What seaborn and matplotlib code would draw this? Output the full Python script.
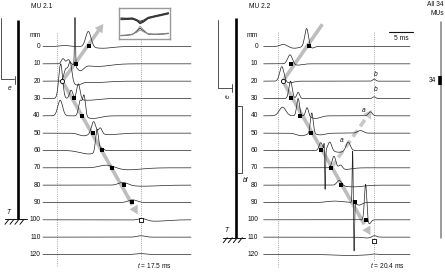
import numpy as np
import pandas as pd
import matplotlib
matplotlib.use("Agg")
import matplotlib.pyplot as plt
import seaborn as sns

sns.set_theme(style="white")
plt.rcParams["font.family"] = ["Liberation Sans", "DejaVu Sans"]
plt.rcParams["mathtext.fontset"] = "custom"
plt.rcParams["mathtext.it"] = "Liberation Sans:italic"

# ---------------- data ----------------
channels = [0, 10, 20, 30, 40, 50, 60, 70, 80, 90, 100, 110, 120]
t_start, t_end = -3.0, 28.0

# peaks per channel: (time ms, amplitude mm (up = +), sigma ms)
peaks_mu21 = [
    [(6.5, 9.0, 0.55), (9.5, -1.0, 2.0), (1.5, 0.6, 1.0)],
    [(1.2, 3.0, 0.35), (2.3, 2.5, 0.35), (3.7, 28.0, 0.1), (4.8, -3.5, 0.7), (8.5, -1.5, 2.5)],
    [(1.8, 7.0, 0.4), (2.7, 11.0, 0.35), (4.2, -2.0, 0.8), (8.0, -0.8, 2.5)],
    [(0.7, 20.0, 0.4), (2.9, 5.0, 0.35), (4.4, 9.0, 0.35), (6.5, -1.0, 2.0)],
    [(0.6, 9.0, 0.5), (4.8, 9.0, 0.35), (5.6, 12.0, 0.3), (7.5, -1.5, 1.5)],
    [(5.5, -1.5, 1.0), (7.6, 7.0, 0.45), (9.0, 3.5, 0.35), (11.0, -0.8, 2.0)],
    [(6.5, -2.0, 1.8), (8.3, 13.0, 0.3), (9.2, 2.0, 0.5)],
    [(10.5, 2.0, 1.6), (14.5, -1.2, 3.0)],
    [(13.8, 1.8, 1.0), (18.0, -0.6, 3.0)],
    [(15.8, 1.5, 0.9)],
    [(17.8, 1.2, 0.8), (20.5, -0.8, 2.5)],
    [(17.5, 0.8, 0.8)],
    [(17.5, 0.5, 1.0)],
]
peaks_mu22 = [
    [(1.2, 1.3, 0.7), (3.5, -1.0, 1.0), (6.1, 10.5, 0.4), (7.2, -1.0, 0.5)],
    [(2.6, 5.5, 0.5), (4.0, -0.8, 1.0)],
    [(0.85, 8.5, 0.45), (2.5, -1.0, 0.8), (20.4, 1.2, 0.3)],
    [(2.7, 10.0, 0.35), (4.3, 3.5, 0.3), (20.4, 1.0, 0.3)],
    [(1.0, 5.0, 0.7), (4.3, 10.0, 0.3), (6.2, 5.0, 0.3), (8.0, -1.5, 1.0), (19.6, 2.3, 0.4)],
    [(5.0, -1.5, 1.0), (7.2, 12.0, 0.3), (9.0, -1.0, 1.0), (17.5, 1.5, 0.6)],
    [(9.1, 4.5, 0.35), (9.85, 8.0, 0.08), (10.0, -24.0, 0.1), (11.0, 5.0, 0.4), (13.0, -1.0, 1.0), (14.9, 5.0, 0.45)],
    [(11.9, 7.0, 0.4), (13.3, 2.5, 0.4), (14.0, -1.0, 1.5)],
    [(13.0, 3.0, 0.5), (16.0, -1.0, 2.0)],
    [(12.0, 0.8, 1.5), (15.85, 30.0, 0.1), (16.15, -28.0, 0.1), (17.2, -1.5, 0.6)],
    [(18.6, 21.0, 0.25), (19.3, -2.5, 0.4)],
    [(19.0, -0.5, 1.0), (20.4, 1.0, 0.5)],
    [(15.0, -0.6, 3.0), (20.4, 0.4, 0.5)],
]

# latency markers
sq21_ch = [0, 10, 30, 40, 50, 60, 70, 80, 90]
sq21_t = [6.65, 3.92, 3.5, 5.12, 7.43, 9.32, 11.54, 14.06, 15.61]
sq22_ch = [0, 10, 30, 40, 50, 60, 70, 80, 90, 100]
sq22_t = [6.63, 2.82, 2.82, 4.66, 6.99, 9.1, 11.3, 13.4, 16.4, 18.7]
origin21 = (1.05, 20)
origin22 = (1.06, 20)
end21 = (17.5, 100)
end22 = (20.4, 112.5)
uptip21 = (9.65, -13)
uptip22 = (10.06, -15.3)
dash22 = [(11.3, 70), (19.9, 36.6)]
T21, T22 = 17.5, 20.4

inset_x = [0.03, 0.14, 0.26, 0.34, 0.41, 0.48, 0.57, 0.70, 0.84, 0.97]
inset_top = [
    [0.66, 0.66, 0.67, 0.62, 0.55, 0.59, 0.69, 0.74, 0.79, 0.84],
    [0.63, 0.64, 0.65, 0.60, 0.52, 0.57, 0.67, 0.72, 0.77, 0.82],
    [0.69, 0.68, 0.69, 0.64, 0.58, 0.62, 0.71, 0.76, 0.81, 0.86],
    [0.65, 0.67, 0.66, 0.61, 0.50, 0.56, 0.68, 0.74, 0.80, 0.83],
]
inset_bottom = [
    [0.12, 0.13, 0.16, 0.25, 0.36, 0.27, 0.17, 0.16, 0.17, 0.19],
    [0.13, 0.14, 0.17, 0.22, 0.30, 0.24, 0.18, 0.17, 0.18, 0.20],
    [0.11, 0.12, 0.15, 0.27, 0.42, 0.30, 0.16, 0.15, 0.16, 0.18],
]

# ---------------- figure ----------------
W, H, DPI = 445, 278, 100
fig = plt.figure(figsize=(W / DPI, H / DPI), dpi=DPI)
fig.patch.set_facecolor("white")

YLIM = (130, -15)
FS = 4.8
TRACE_C = "#222222"
ARROW_C = "#bdbdbd"
HEAD = "-|>,head_length=0.75,head_width=0.42"


def make_ax(left_px, right_px, xlim):
    top_px, bot_px = 20.5, 271.8
    ax = fig.add_axes([left_px / W, (H - bot_px) / H, (right_px - left_px) / W, (bot_px - top_px) / H])
    ax.set_xlim(*xlim)
    ax.set_ylim(*YLIM)
    ax.set_axis_off()
    return ax


def grey_arrow(ax, start, tip, color, dashed=False):
    frac = 0.93
    mid = (start[0] + (tip[0] - start[0]) * frac, start[1] + (tip[1] - start[1]) * frac)
    ls = (0, (2.2, 1.3)) if dashed else "-"
    ax.plot([start[0], mid[0]], [start[1], mid[1]], color=color, lw=2.6, linestyle=ls,
            solid_capstyle="butt", zorder=1, clip_on=False)
    ax.annotate("", xy=tip, xytext=(start[0] + (tip[0] - start[0]) * 0.8,
                                    start[1] + (tip[1] - start[1]) * 0.8),
                arrowprops=dict(arrowstyle=HEAD, color=color, lw=0.0, shrinkA=0, shrinkB=0,
                                mutation_scale=8), zorder=1)


def draw_panel(ax, peaks, label_t, T, sq_ch, sq_t, origin, end, uptip, title):
    t = np.linspace(t_start, t_end, 3200)
    for ch, pk in zip(channels, peaks):
        y = np.zeros_like(t)
        for c, a, s in pk:
            y += a * np.exp(-0.5 * ((t - c) / s) ** 2)
        sns.lineplot(x=t, y=ch - y, ax=ax, color=TRACE_C, linewidth=0.5,
                     estimator=None, sort=False, zorder=3)
        ax.text(label_t, ch, str(ch), ha="right", va="center", fontsize=FS, color="#111")
    ax.text(label_t, -6.6, "mm", ha="right", va="center", fontsize=FS, color="#111")
    ax.text(label_t + 0.3, -22.8, title, ha="center", va="center", fontsize=FS, color="#111")
    # arrows: down-arrow tip stops just short of the end marker
    tip_dn = (end[0] - 0.04 * (end[0] - origin[0]), end[1] - 0.04 * (end[1] - origin[1]))
    grey_arrow(ax, origin, tip_dn, ARROW_C)
    grey_arrow(ax, origin, uptip, ARROW_C)
    sns.scatterplot(x=sq_t, y=sq_ch, ax=ax, marker="s", s=9, color="black",
                    linewidth=0, zorder=6)
    ax.scatter([origin[0]], [origin[1]], marker="o", s=9, facecolor="white",
               edgecolor="black", linewidth=0.6, zorder=6)
    ax.scatter([end[0]], [end[1]], marker="s", s=12, facecolor="white",
               edgecolor="black", linewidth=0.6, zorder=6)
    ax.text(T - 0.8, 126.5, "$t$ = %.1f ms" % T, ha="left", va="center", fontsize=FS, color="#111")
    for l in ax.lines:
        l.set_clip_on(False)
    for c in ax.collections:
        c.set_clip_on(False)


axL = make_ax(43, 191, (t_start, t_end))
axR = make_ax(262.7, 410, (-3.2, t_end))

# dotted reference lines
dot = dict(color="#8a8a8a", lw=0.6, linestyle=(0, (1, 1.6)), zorder=0, clip_on=False)
axL.plot([0, 0], [-7.8, 127], **dot)
axL.plot([T21, T21], [-4.3, 123.3], **dot)
axR.plot([0, 0], [-8.4, 127], **dot)
axR.plot([T22, T22], [-8.5, 124], **dot)

draw_panel(axL, peaks_mu21, -3.5, T21, sq21_ch, sq21_t, origin21, end21, uptip21, "MU 2.1")
draw_panel(axR, peaks_mu22, -4.2, T22, sq22_ch, sq22_t, origin22, end22, uptip22, "MU 2.2")

# dashed arrow (a)
grey_arrow(axR, dash22[0], dash22[1], "#c8c8c8", dashed=True)
for (tx, ty, s) in [(18.1, 37.2, "a"), (13.6, 54.4, "a"), (20.8, 15.9, "b"), (20.8, 25.1, "b")]:
    axR.text(tx, ty, s, fontsize=FS, style="italic", ha="center", va="center", color="#111")

# scale bar
axR.plot([23.6, 28.6], [-8.2, -8.2], color="#111", lw=0.8, clip_on=False)
axR.text(26.1, -4.6, "5 ms", ha="center", va="center", fontsize=FS, color="#111")

# inset
axI = fig.add_axes([119.3 / W, (H - 39.3) / H, 50.7 / W, 31 / H])
axI.set_xlim(0, 1)
axI.set_ylim(0, 1)
axI.set_xticks([])
axI.set_yticks([])
for sp in axI.spines.values():
    sp.set_color("#999999")
    sp.set_linewidth(1.0)
for yy in inset_top:
    sns.lineplot(x=inset_x, y=yy, ax=axI, color="#333", linewidth=0.7, estimator=None, sort=False)
for i, yy in enumerate(inset_bottom):
    sns.lineplot(x=inset_x, y=yy, ax=axI, color="#222" if i == 0 else "#888",
                 linewidth=0.6, estimator=None, sort=False)

# decorations (pixel overlay)
axO = fig.add_axes([0, 0, 1, 1], zorder=-1)
axO.set_xlim(0, W)
axO.set_ylim(H, 0)
axO.set_axis_off()
axO.patch.set_alpha(0)


def ground(ax, x0, x1, y, tx, ty):
    ax.plot([x0, x1], [y, y], color="#111", lw=0.7)
    for hx in np.arange(x0 + 4, x1 + 1, 5):
        ax.plot([hx, hx - 4], [y, y + 5], color="#111", lw=0.7)
    ax.text(tx, ty, "T", fontsize=FS, style="italic", ha="center", va="center", color="#111")


# left muscle
axO.plot([18.3, 18.3], [20, 219.3], color="black", lw=1.9, solid_capstyle="butt")
axO.plot([0.6, 0.6, 14.3], [18.3, 79.3, 79.3], color="#333", lw=0.6)
axO.plot([14.5, 14.5], [75.5, 83.5], color="#333", lw=0.6)
axO.text(9.5, 89, "e", fontsize=FS, style="italic", ha="center", va="center", color="#111")
ground(axO, 5, 27, 219.3, 8.5, 212.5)

# right muscle
axO.plot([236, 236], [18.3, 237.7], color="black", lw=1.9, solid_capstyle="butt")
axO.plot([218.3, 218.3, 231.5], [20, 88, 88], color="#333", lw=0.6)
axO.plot([231.7, 231.7], [84, 92], color="#333", lw=0.6)
axO.text(228, 96, "e", fontsize=FS, style="italic", ha="center", va="center", rotation=90, color="#111")
axO.plot([236.8, 242.3, 242.3, 236.8], [106, 106, 173.3, 173.3], color="#333", lw=0.6)
axO.text(246, 180, "bf", fontsize=FS, style="italic", ha="center", va="center", color="#111")
ground(axO, 223.3, 245, 237.7, 226, 230.5)

# all 34 MUs
axO.text(444, 4.5, "All 34", fontsize=FS, ha="right", va="center", color="#111")
axO.text(444, 13.5, "MUs", fontsize=FS, ha="right", va="center", color="#111")
axO.plot([441, 441], [21.7, 238], color="#808080", lw=1.1)
axO.plot([439.8, 439.8], [76, 85], color="black", lw=2.6, solid_capstyle="butt")
axO.text(436, 80.7, "34", fontsize=FS, ha="right", va="center", color="#111")

fig.savefig("out.png", dpi=DPI, facecolor="white")
